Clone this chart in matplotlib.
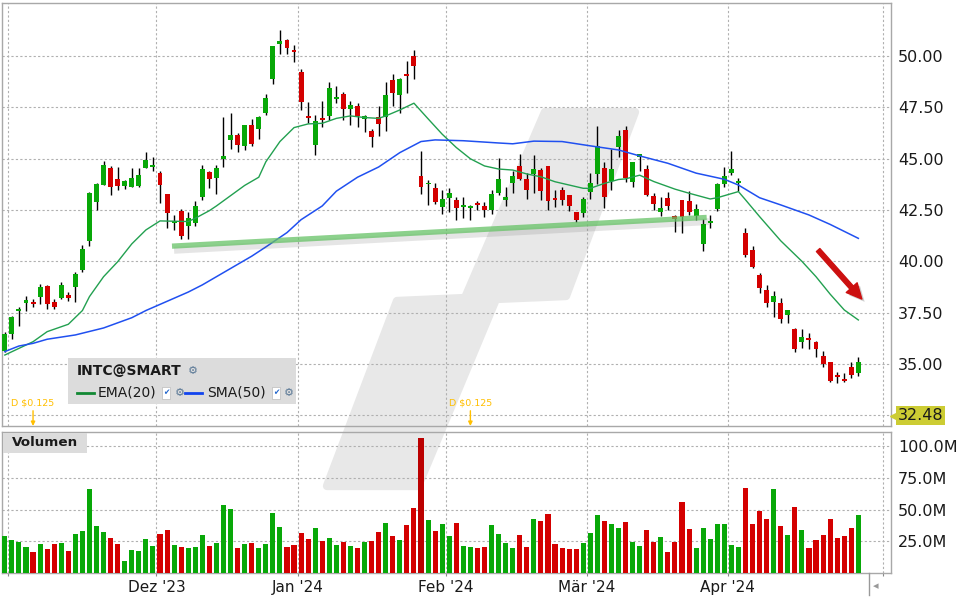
"""
INTC@SMART  Tageskerzen mit EMA(20) / SMA(50) und Volumen
"""
import numpy as np
import pandas as pd
import matplotlib
matplotlib.use('Agg')
import matplotlib.pyplot as plt
import matplotlib.patheffects as pe
import matplotlib.transforms as mtrans
from matplotlib.patches import Polygon, Rectangle

# ════════════════════════════════════════════════════════════════
# 1.  Daten (aus dem Chart abgelesen)
# ════════════════════════════════════════════════════════════════
holidays = pd.to_datetime(['2023-11-23', '2023-12-25', '2024-01-01',
                           '2024-01-15', '2024-02-19', '2024-03-29'])
calendar = pd.bdate_range('2023-10-31', '2024-05-01')
calendar = calendar[~calendar.isin(holidays)]

opens = [35.64, 36.47, 37.58, 37.97, 38.02, 38.26, 38.81, 38.00, 38.23, 38.36,
         38.77, 39.58, 41.01, 42.91, 43.72, 44.55, 44.02, 43.69, 43.64, 43.69,
         44.57, 44.62, 44.31, 43.29, 41.85, 42.46, 41.74, 41.89, 43.16, 44.36,
         44.08, 44.99, 45.92, 46.18, 45.60, 46.65, 46.46, 47.24, 48.90, 50.62,
         50.80, 50.31, 49.25, 47.09, 45.68, 47.00, 47.09, 47.92, 48.16, 47.43,
         47.57, 46.94, 46.36, 47.05, 47.02, 48.84, 48.13, 49.15, 50.03, 44.18,
         43.75, 43.58, 42.63, 43.11, 42.99, 42.67, 42.62, 42.86, 42.70, 42.51,
         43.35, 43.00, 43.84, 44.65, 44.02, 44.26, 44.46, 44.65, 43.09, 43.48,
         43.24, 42.41, 42.34, 43.40, 44.26, 44.56, 43.94, 45.57, 46.41, 43.89,
         45.10, 44.50, 43.19, 42.42, 43.07, 42.21, 42.99, 42.94, 42.21, 40.85,
         41.89, 42.55, 43.76, 44.33, 43.80, 41.39, 40.55, 39.33, 38.60, 38.03,
         37.98, 37.38, 36.68, 36.08, 36.28, 36.08, 35.38, 35.09, 34.47, 34.28,
         34.86, 34.57]
highs = [36.54, 37.32, 37.76, 38.31, 38.15, 38.90, 38.86, 38.15, 38.98, 38.52,
         39.50, 40.81, 43.40, 43.80, 44.90, 44.67, 44.62, 43.97, 44.55, 44.57,
         45.32, 45.07, 44.38, 43.29, 42.26, 42.55, 42.40, 42.94, 44.70, 44.42,
         44.70, 47.06, 47.22, 46.25, 46.65, 46.94, 47.10, 48.15, 50.51, 51.28,
         50.82, 50.55, 49.38, 47.78, 47.14, 47.84, 48.75, 48.55, 48.26, 47.82,
         47.70, 47.15, 46.44, 47.57, 48.76, 49.14, 48.96, 49.77, 50.31, 45.38,
         43.95, 43.80, 43.50, 43.56, 43.16, 43.16, 42.75, 42.96, 42.91, 43.48,
         45.06, 43.64, 44.42, 45.24, 44.29, 45.16, 44.54, 44.65, 43.48, 43.64,
         43.24, 42.41, 43.16, 44.29, 46.60, 44.83, 45.47, 46.41, 46.60, 44.86,
         45.23, 44.70, 43.32, 43.15, 43.40, 42.26, 42.99, 43.45, 42.80, 42.05,
         42.26, 43.84, 44.60, 45.39, 44.05, 41.64, 40.76, 39.45, 38.85, 38.57,
         38.23, 37.63, 36.73, 36.68, 36.52, 36.13, 35.64, 35.09, 34.62, 34.57,
         35.11, 35.32]
lows = [35.56, 36.21, 36.86, 37.59, 37.79, 37.94, 37.69, 37.68, 38.18, 38.07,
        38.02, 39.48, 40.75, 42.50, 43.70, 43.25, 43.50, 43.55, 43.64, 43.61,
        44.55, 44.38, 42.83, 41.64, 41.53, 41.09, 41.09, 41.72, 42.98, 43.59,
        43.30, 44.62, 45.50, 45.34, 45.43, 45.63, 45.98, 47.14, 48.66, 50.13,
        50.13, 49.73, 47.38, 46.75, 45.20, 46.57, 46.89, 47.74, 46.89, 46.65,
        46.57, 46.32, 45.59, 46.11, 46.37, 47.57, 47.25, 48.23, 48.89, 43.26,
        42.77, 42.80, 42.32, 42.39, 42.02, 42.10, 42.02, 42.51, 42.15, 42.31,
        43.24, 42.72, 43.35, 43.97, 43.04, 43.35, 42.99, 42.51, 42.64, 42.75,
        42.47, 41.94, 42.18, 43.04, 43.76, 42.59, 43.48, 45.11, 43.88, 43.60,
        44.41, 43.18, 42.50, 42.23, 42.50, 41.41, 41.37, 42.26, 42.02, 40.52,
        41.61, 42.47, 43.64, 44.21, 43.45, 40.20, 39.66, 38.47, 37.79, 37.27,
        36.98, 37.01, 35.59, 35.76, 35.71, 35.32, 34.86, 34.13, 34.05, 34.13,
        34.30, 34.41]
closes = [36.46, 37.29, 37.68, 38.12, 37.92, 38.75, 37.92, 37.79, 38.83, 38.23,
          39.38, 40.60, 43.33, 43.77, 44.68, 43.64, 43.69, 43.92, 44.07, 44.20,
          44.94, 44.70, 43.74, 42.34, 41.97, 41.25, 42.10, 42.70, 44.49, 44.03,
          44.55, 45.15, 46.17, 45.68, 46.65, 45.72, 47.05, 47.97, 50.51, 50.75,
          50.38, 50.22, 47.79, 47.00, 46.85, 46.89, 48.45, 48.01, 47.43, 47.62,
          47.09, 47.07, 46.06, 46.70, 48.11, 48.23, 48.89, 49.05, 49.54, 43.64,
          43.83, 42.90, 43.03, 43.35, 42.62, 42.75, 42.70, 42.77, 42.51, 43.27,
          44.02, 43.12, 44.16, 44.02, 43.48, 44.50, 43.45, 42.95, 42.99, 42.99,
          42.70, 42.02, 43.04, 43.84, 45.60, 43.16, 44.50, 46.12, 44.07, 44.86,
          45.23, 43.21, 42.78, 42.61, 42.71, 42.05, 42.18, 42.42, 42.54, 41.82,
          41.97, 43.77, 44.16, 44.50, 43.92, 40.31, 39.74, 38.72, 37.98, 38.31,
          37.19, 37.63, 35.71, 36.33, 36.16, 35.71, 34.99, 34.18, 34.37, 34.18,
          34.46, 35.09]
volume_m = [29.2, 26.1, 24.5, 20.6, 16.7, 22.9, 19.0, 22.9, 23.7, 17.4,
            30.8, 33.1, 66.0, 37.0, 32.3, 27.6, 22.9, 9.6, 18.2, 17.4,
            26.8, 21.4, 30.8, 33.9, 22.1, 20.6, 19.8, 20.6, 30.0, 21.4,
            23.7, 53.5, 50.1, 19.8, 22.9, 23.7, 19.8, 22.9, 47.2, 36.2,
            20.6, 22.1, 31.5, 26.8, 35.5, 25.3, 27.6, 22.1, 24.5, 21.4,
            19.8, 24.5, 25.3, 32.3, 39.4, 29.2, 26.1, 37.8, 51.1, 106.0,
            41.7, 33.1, 38.6, 29.2, 39.4, 21.4, 20.6, 19.8, 20.6, 37.8,
            30.8, 23.7, 19.8, 30.0, 20.6, 42.5, 41.0, 46.4, 22.9, 19.8,
            19.0, 19.0, 23.7, 31.5, 45.6, 41.0, 38.6, 35.5, 40.2, 24.5,
            21.4, 33.9, 24.5, 28.4, 16.6, 24.5, 55.8, 34.7, 19.8, 35.5,
            26.8, 38.6, 38.6, 22.1, 20.6, 66.8, 38.6, 48.8, 42.5, 66.0,
            37.0, 30.0, 51.9, 33.9, 19.8, 26.1, 30.0, 42.5, 27.6, 29.2,
            35.5, 45.6]

# Indikatorlinien (Kerzenindex, Wert)
ema_idx = [0, 4, 6, 9, 11, 12, 14, 16, 18, 20, 22, 26, 27, 29, 30, 32, 34, 36,
           37, 39, 41, 43, 45, 47, 49, 51, 53, 54, 56, 58, 60, 62, 64, 66, 68,
           70, 72, 74, 76, 78, 80, 82, 83, 85, 87, 88, 90, 92, 95, 97, 100,
           101, 104, 105, 107, 110, 113, 115, 117, 119, 121]
ema_val = [35.43, 36.08, 36.57, 36.93, 37.60, 38.28, 39.25, 39.98, 40.85, 41.53,
           41.97, 41.94, 42.10, 42.47, 42.70, 43.20, 43.70, 44.10, 44.85, 45.84,
           46.52, 46.70, 46.73, 46.97, 47.09, 47.01, 46.97, 47.09, 47.38, 47.71,
           46.95, 46.20, 45.55, 45.00, 44.65, 44.50, 44.45, 44.26, 44.12, 43.88,
           43.72, 43.56, 43.56, 43.80, 43.99, 44.02, 44.20, 43.89, 43.52, 43.32,
           43.04, 43.10, 43.40, 43.00, 42.18, 41.00, 40.00, 39.25, 38.40, 37.63,
           37.14]
sma_idx = [0, 2, 4, 6, 10, 14, 18, 20, 23, 26, 28, 30, 32, 35, 37, 40, 42, 45,
           47, 50, 53, 56, 59, 61, 65, 70, 72, 75, 79, 83, 87, 90, 94, 98, 102,
           104, 107, 110, 114, 117, 121]
sma_val = [35.60, 35.87, 36.00, 36.20, 36.41, 36.75, 37.25, 37.60, 38.05, 38.50,
           38.85, 39.25, 39.65, 40.25, 40.70, 41.40, 42.03, 42.70, 43.42, 44.10,
           44.60, 45.30, 45.84, 45.92, 45.88, 45.77, 45.73, 45.86, 45.84, 45.63,
           45.43, 45.14, 44.78, 44.30, 44.00, 43.72, 43.10, 42.75, 42.26, 41.80,
           41.12]

div_dates = ['2023-11-06', '2024-02-06']
div_label = 'D $0.125'
last_price = 32.48

# Zeichnungen im Chart (Trendlinie, Pfeil) in Kerzenindex / Kurs
trend_idx = [23.7, 99.5]
trend_val = [40.74, 42.14]
arrow_idx = [115.3, 121.5]
arrow_val = [40.55, 38.16]

price_ticks = [32.5, 35.0, 37.5, 40.0, 42.5, 45.0, 47.5, 50.0]
vol_ticks = [25, 50, 75, 100]
MONTHS_DE = {1: 'Jan', 2: 'Feb', 3: 'Mär', 4: 'Apr', 5: 'Mai',
             11: 'Nov', 12: 'Dez'}

# ════════════════════════════════════════════════════════════════
# 2.  Aufbereitung
# ════════════════════════════════════════════════════════════════
n = len(closes)
dates = calendar[:n]
x = np.arange(n)
o = np.array(opens); h = np.array(highs)
l = np.array(lows);  c = np.array(closes)
up = c >= o

# Monatsgrenzen (zwischen den Kerzen)
month_change = np.where(calendar.month[1:] != calendar.month[:-1])[0] + 1
month_bounds = month_change - 0.5
month_labels = [f"{MONTHS_DE[d.month]} '{d.strftime('%y')}" for d in calendar[month_change]]
month_labels[0] = ''       # Nov am Rand ohne Beschriftung
month_labels[-1] = ''      # Mai noch ohne Daten

# ── Farben ───────────────────────────────────────────────────
C_UP    = '#08a808'
C_DN    = '#d40000'
C_PEAK  = '#bb0000'
C_EMA   = '#22a050'
C_SMA   = '#2050f0'
C_GRID  = '#b0b0b0'
C_SPINE = '#a8a8a8'
C_TXT   = '#1a1a1a'
C_DIV   = '#ffbf00'
C_BOX   = '#dcdcdc'
C_WM    = '#e8e8e8'

W, H = 960, 600
def fx(px): return px / W
def fy(py): return 1 - py / H

fig = plt.figure(figsize=(9.6, 6.0), dpi=100, facecolor='white')
ax  = fig.add_axes([fx(2), fy(426), (891 - 2) / W, (426 - 2.7) / H])
axv = fig.add_axes([fx(2), fy(573.3), (891 - 2) / W, (573.3 - 431.7) / H])

# ── Wasserzeichen (Hintergrund-Logo) ─────────────────────────
wm = Polygon([(fx(545), fy(112)), (fx(635), fy(112)), (fx(566), fy(296)),
              (fx(496), fy(299)), (fx(418), fy(486)), (fx(327), fy(486)),
              (fx(397), fy(301)), (fx(465), fy(298))],
             closed=True, transform=fig.transFigure, fc=C_WM, ec=C_WM,
             lw=6, joinstyle='round', zorder=-1)
fig.patches.append(wm)

for a in (ax, axv):
    a.set_facecolor('none')
    a.set_xlim(-0.4, 125.63)
    a.set_axisbelow(True)
    for s in a.spines.values():
        s.set_color(C_SPINE)
        s.set_linewidth(1.0)
    a.yaxis.tick_right()
    a.tick_params(axis='y', length=0, pad=5, labelsize=11.5, labelcolor=C_TXT)
    a.set_xticks(month_bounds)
    a.grid(True, color=C_GRID, ls=(0, (2, 2)), lw=0.8)

# ════════════════════════════════════════════════════════════════
# 3.  Kurs-Panel
# ════════════════════════════════════════════════════════════════
ax.set_ylim(31.97, 52.61)
ax.set_yticks(price_ticks)
ax.set_yticklabels(['' if t == 32.5 else f'{t:.2f}' for t in price_ticks])
ax.tick_params(axis='x', length=0, labelbottom=False)

body_col = np.where(up, C_UP, C_DN)
ax.vlines(x, l, h, color='black', lw=1.0, zorder=2)
body_h = np.maximum(np.abs(c - o), 0.08)
ax.bar(x, body_h, bottom=np.minimum(o, c), width=0.7, color=body_col,
       edgecolor='none', zorder=3)

ax.plot(ema_idx, ema_val, color=C_EMA, lw=1.0, zorder=4)
ax.plot(sma_idx, sma_val, color=C_SMA, lw=1.1, zorder=4)

# Trendlinie mit Schatten
ax.plot(trend_idx, trend_val, color='#66c266', lw=3.8, alpha=0.75,
        solid_capstyle='butt', zorder=5,
        path_effects=[pe.SimpleLineShadow(offset=(1.5, -3), shadow_color='#555555',
                                          alpha=0.15, linewidth=5),
                      pe.Normal()])

# Roter Pfeil
ax.annotate('', xy=(arrow_idx[1], arrow_val[1]), xytext=(arrow_idx[0], arrow_val[0]),
            arrowprops=dict(arrowstyle='simple,head_length=1.1,head_width=1.05,tail_width=0.33',
                            color='#cc1010', shrinkA=0, shrinkB=0,
                            path_effects=[pe.withSimplePatchShadow(offset=(2, -2),
                                                                   shadow_rgbFace='#777777',
                                                                   alpha=0.35)]),
            zorder=6)

# Dividenden-Marker
tr_div = mtrans.blended_transform_factory(ax.transData, ax.transAxes)
for d in div_dates:
    i = dates.get_loc(pd.Timestamp(d))
    ax.annotate('', xy=(i, 0.0), xytext=(i, 0.036), xycoords=tr_div,
                arrowprops=dict(arrowstyle='-|>', color=C_DIV, lw=1.0,
                                mutation_scale=6, shrinkA=0, shrinkB=0))
    ax.text(i, 0.055, div_label, transform=tr_div, ha='center', va='center',
            fontsize=6.8, color=C_DIV)

# Aktueller Kurs rechts
tr_last = mtrans.blended_transform_factory(ax.transAxes, ax.transData)
ax.plot([1.0 + 2.5 / 889], [last_price], marker='<', ms=6, color='#cccc33',
        transform=tr_last, clip_on=False, zorder=7)
ax.text(1.0 + 7 / 889, last_price, f'{last_price:.2f}', transform=tr_last,
        ha='left', va='center', fontsize=11.5, color=C_TXT, clip_on=False,
        bbox=dict(boxstyle='square,pad=0.1', fc='#cccc33', ec='none'), zorder=7)

# ════════════════════════════════════════════════════════════════
# 4.  Volumen-Panel
# ════════════════════════════════════════════════════════════════
vol_col = list(body_col)
vol_col[int(np.argmax(volume_m))] = C_PEAK
axv.bar(x, volume_m, width=0.72, color=vol_col, edgecolor='none', zorder=3)
axv.set_ylim(0, 111)
axv.set_yticks(vol_ticks)
axv.set_yticklabels([f'{v:.1f}M' for v in vol_ticks])
axv.set_xticklabels(month_labels)
axv.tick_params(axis='x', length=2.5, width=0.8, color='#888888', pad=2,
                labelsize=11, labelcolor=C_TXT)

# ════════════════════════════════════════════════════════════════
# 5.  Legende / Beschriftungen
# ════════════════════════════════════════════════════════════════
fig.patches.append(Rectangle((fx(68), fy(404)), (296 - 68) / W, (404 - 358) / H,
                             transform=fig.transFigure, fc=C_BOX, ec='none', zorder=5))
fig.text(fx(77), fy(371), 'INTC@SMART', fontsize=10, fontweight='bold',
         color=C_TXT, va='center', ha='left', zorder=6)
fig.text(fx(193), fy(371), '⚙', fontsize=8, color='#5a7896', va='center',
         ha='center', zorder=6)

fig.lines.append(plt.Line2D([fx(77), fx(94)], [fy(393), fy(393)],
                            transform=fig.transFigure, color='#118833', lw=2, zorder=6))
fig.text(fx(98), fy(393), 'EMA(20)', fontsize=10, color=C_TXT, va='center',
         ha='left', zorder=6)
fig.lines.append(plt.Line2D([fx(185), fx(202)], [fy(393), fy(393)],
                            transform=fig.transFigure, color='#1144ee', lw=2, zorder=6))
fig.text(fx(207), fy(393), 'SMA(50)', fontsize=10, color=C_TXT, va='center',
         ha='left', zorder=6)
for cx, gx in [(166, 180), (276, 289)]:
    fig.text(fx(cx), fy(393), '✔', fontsize=5.5, color='#2266cc', va='center',
             ha='center', zorder=6,
             bbox=dict(boxstyle='square,pad=0.15', fc='white', ec='#bbbbbb', lw=0.5))
    fig.text(fx(gx), fy(393), '⚙', fontsize=8, color='#5a7896', va='center',
             ha='center', zorder=6)

fig.patches.append(Rectangle((fx(3), fy(453)), (87 - 3) / W, (453 - 433) / H,
                             transform=fig.transFigure, fc=C_BOX, ec='none', zorder=5))
fig.text(fx(12), fy(443), 'Volumen', fontsize=9.7, fontweight='bold',
         color=C_TXT, va='center', ha='left', zorder=6)

# Scroll-Steuerung unten rechts
fig.lines.append(plt.Line2D([fx(869), fx(869)], [fy(573), fy(595)],
                            transform=fig.transFigure, color='#999999', lw=1))
fig.text(fx(876), fy(586), '◂', fontsize=8, color='#999999', va='center',
         ha='center')

fig.savefig('out.png', dpi=100, facecolor=fig.get_facecolor())
